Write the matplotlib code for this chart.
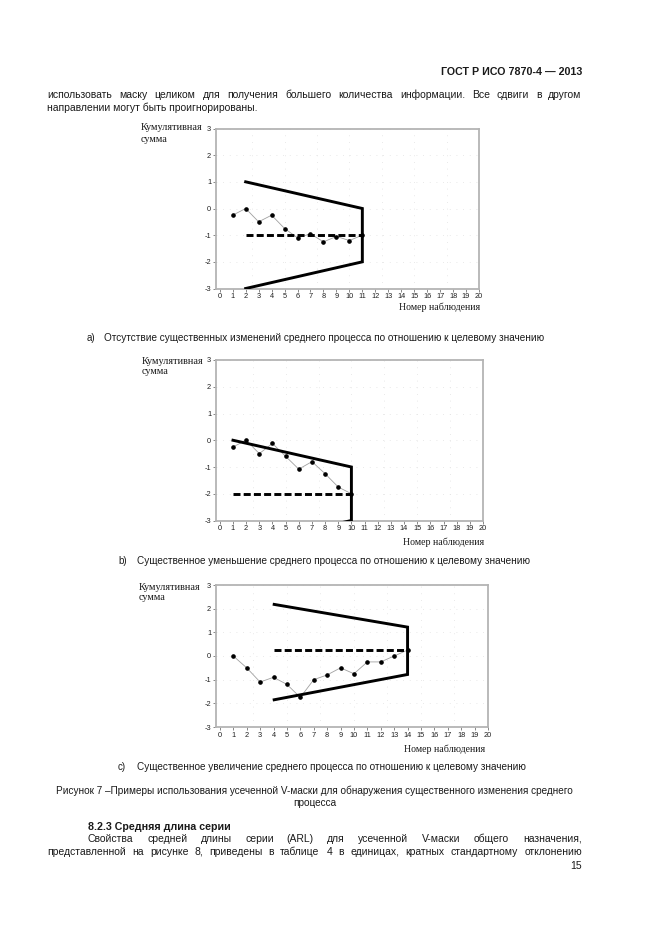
import matplotlib
matplotlib.use("Agg")
import matplotlib.pyplot as plt
from matplotlib.font_manager import findfont, FontProperties
from matplotlib.ft2font import FT2Font
try:
    from matplotlib.ft2font import LoadFlags
    NOHINT = LoadFlags.NO_HINTING
except ImportError:
    from matplotlib.ft2font import LOAD_NO_HINTING as NOHINT

W, H = 661, 936
DPI = 100

# ---------------- data ----------------
obs_a = [1, 2, 3, 4, 5, 6, 7, 8, 9, 10, 11]
cusum_a = [-0.25, 0.0, -0.5, -0.25, -0.75, -1.1, -0.95, -1.25, -1.05, -1.2, -1.0]
mask_a_x = [2, 11, 11, 2]
mask_a_y = [1.0, 0.0, -2.0, -3.0]
target_a_x = [2, 11]
target_a_y = [-1.0, -1.0]

obs_b = [1, 2, 3, 4, 5, 6, 7, 8, 9, 10]
cusum_b = [-0.25, 0.0, -0.5, -0.12, -0.6, -1.08, -0.8, -1.25, -1.75, -2.0]
mask_b_x = [1, 10, 10, 1]
mask_b_y = [0.0, -1.0, -3.0, -4.0]
target_b_x = [1, 10]
target_b_y = [-2.0, -2.0]

obs_c = [1, 2, 3, 4, 5, 6, 7, 8, 9, 10, 11, 12, 13, 14]
cusum_c = [0.0, -0.5, -1.1, -0.9, -1.2, -1.75, -1.0, -0.8, -0.5, -0.75, -0.25, -0.25, 0.0, 0.25]
mask_c_x = [4.05, 14, 14, 4.05]
mask_c_y = [2.18, 1.22, -0.78, -1.85]
target_c_x = [4.05, 14]
target_c_y = [0.25, 0.25]

x_ticks = list(range(0, 21))
y_ticks = [-3, -2, -1, 0, 1, 2, 3]
y_tick_labels = ["-3", "-2", "-1", "0", "1", "2", "3"]
x_grid = [2.5, 5, 7.5, 10, 12.5, 15, 17.5]

ylabel_1 = "Кумулятивная"
ylabel_2 = "сумма"
xlabel = "Номер наблюдения"

header = "ГОСТ Р ИСО 7870-4 — 2013"
para1 = "использовать маску целиком для получения большего количества информации. Все сдвиги в другом"
para2 = "направлении могут быть проигнорированы."
cap_a = "Отсутствие существенных изменений среднего процесса по отношению к целевому значению"
cap_b = "Существенное уменьшение среднего процесса по отношению к целевому значению"
cap_c = "Существенное увеличение среднего процесса по отношению к целевому значению"
fig_cap1 = "Рисунок 7 –Примеры использования усеченной V-маски для обнаружения существенного изменения среднего"
fig_cap2 = "процесса"
sec_title = "8.2.3 Средняя длина серии"
sec1 = "Свойства средней длины серии (ARL) для усеченной V-маски общего назначения,"
sec2 = "представленной на рисунке 8, приведены в таблице 4 в единицах, кратных стандартному отклонению"
page_no = "15"

# ---------------- helpers ----------------
fig = plt.figure(figsize=(W / DPI, H / DPI), dpi=DPI)
fig.patch.set_facecolor("white")

SANS = ["Liberation Sans", "DejaVu Sans"]
SERIF = ["Liberation Serif", "DejaVu Serif"]
TXT = "#1a1a1a"
BODY = 7.5

_fonts = {}


def _font(weight):
    if weight not in _fonts:
        _fonts[weight] = FT2Font(findfont(FontProperties(family="Liberation Sans", weight=weight)))
    return _fonts[weight]


def text_width(s, size, weight="normal"):
    f = _font(weight)
    f.set_size(size, DPI)
    return sum(f.load_char(ord(c), flags=NOHINT).linearHoriAdvance / 65536.0 for c in s)


def fx(x):
    return x / W


def fy(y):
    return 1 - y / H


def base(y, size):
    # convert a visual text-centre row to a baseline row
    return y + 0.27 * size * DPI / 72.0


def put(s, x, y, ha="left", size=BODY, weight="normal", family=SANS, color=TXT):
    return fig.text(fx(x), fy(base(y, size)), s, ha=ha, va="baseline", fontsize=size,
                    fontweight=weight, family=family, color=color)


def fit_size(s, width, size=7.0, weight="normal"):
    return size * width / text_width(s, size, weight)


def justify(s, x0, x1, y, size=BODY, weight="normal"):
    words = s.split(" ")
    ws = [text_width(w, size, weight) for w in words]
    gap = (x1 - x0 - sum(ws)) / (len(words) - 1)
    x = x0
    for w, wd in zip(words, ws):
        put(w, x, y, size=size, weight=weight)
        x += wd + gap


def chart(rect, xs, ys, mx, my, tx, ty, lab_pos, xl_pos):
    l, r, t, b = rect
    ax = fig.add_axes([fx(l), fy(b), (r - l) / W, (b - t) / H])
    ax.set_xlim(-0.29, 20)
    ax.set_ylim(-3, 3)
    ax.set_xticks(x_ticks)
    ax.set_xticklabels([str(v) for v in x_ticks])
    ax.set_yticks(y_ticks)
    ax.set_yticklabels(y_tick_labels)
    for sp in ax.spines.values():
        sp.set_color("#b4b4b4")
        sp.set_linewidth(1.3)
    ax.tick_params(axis="both", length=2, width=0.7, color="#888888",
                   labelsize=5.3, pad=1.5, labelcolor="#202020")
    for lbl in ax.get_xticklabels() + ax.get_yticklabels():
        lbl.set_family(SANS)
    ax.grid(True, axis="y", color="#e2e2e2", linestyle=(0, (1, 7)), linewidth=0.6)
    for gx in x_grid:
        ax.axvline(gx, color="#e2e2e2", linestyle=(0, (1, 7)), linewidth=0.6, zorder=0)
    ax.set_axisbelow(True)
    ax.plot(xs, ys, color="#a0a0a0", lw=0.6, marker="o", ms=2.3,
            mfc="black", mec="black", zorder=3)
    ax.plot(mx, my, color="black", lw=2.1, solid_joinstyle="miter", zorder=4)
    ax.plot(tx, ty, color="black", lw=2.1, linestyle=(0, (2.4, 1.1)), zorder=4)
    fig.text(fx(lab_pos[0]), fy(lab_pos[1]), ylabel_1, ha="left", va="center",
             fontsize=7.4, family=SERIF, color=TXT)
    fig.text(fx(lab_pos[0]), fy(lab_pos[1] + 11), ylabel_2, ha="left", va="center",
             fontsize=7.4, family=SERIF, color=TXT)
    fig.text(fx(xl_pos[0]), fy(xl_pos[1]), xlabel, ha="right", va="center",
             fontsize=7.1, family=SERIF, color=TXT)
    return ax


chart((216, 479, 128.5, 288.5), obs_a, cusum_a, mask_a_x, mask_a_y,
      target_a_x, target_a_y, (141, 128), (480, 307))
chart((216, 483, 360, 520.5), obs_b, cusum_b, mask_b_x, mask_b_y,
      target_b_x, target_b_y, (142, 361), (484, 542))
chart((216, 488, 585, 727), obs_c, cusum_c, mask_c_x, mask_c_y,
      target_c_x, target_c_y, (139, 587), (485, 749))

# ---------------- page text ----------------
put(header, 582, 72, ha="right", size=7.7, weight="bold")
justify(para1, 47, 582, 95)
put(para2, 47, 108)

put("а)", 87, 338, size=7.0)
put(cap_a, 104, 338, size=fit_size(cap_a, 441))
put("b)", 118, 561, size=7.0)
put(cap_b, 137, 561, size=fit_size(cap_b, 396))
put("c)", 118, 767, size=7.0)
put(cap_c, 137, 767, size=fit_size(cap_c, 393))

cs = fit_size(fig_cap1, 518)
put(fig_cap1, 56, 791, size=cs)
put(fig_cap2, 315, 803, ha="center", size=cs)

put(sec_title, 88, 827, size=7.7, weight="bold")
justify(sec1, 88, 582, 839)
justify(sec2, 47, 582, 852)
put(page_no, 582, 866, ha="right")

fig.savefig("out.png", dpi=DPI, facecolor="white")
